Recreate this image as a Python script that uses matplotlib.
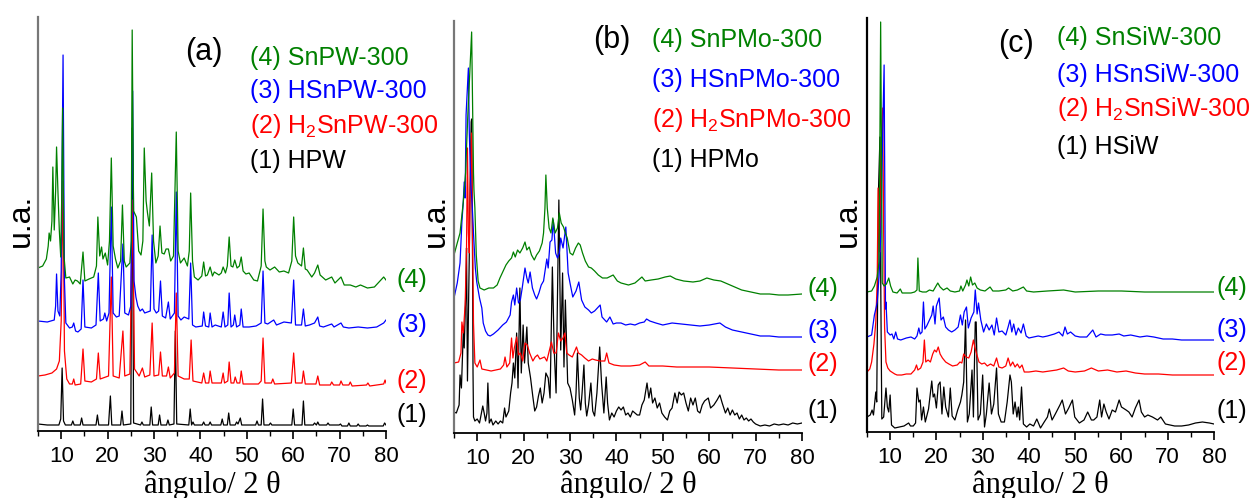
import matplotlib.pyplot as plt

plt.rcParams['font.family'] = ['Liberation Sans', 'DejaVu Sans']
plt.rcParams['mathtext.default'] = 'regular'

# --- (a) serie PW: (2θ, intensidad) ---
hpw = [(5.0, 7), (7, 6), (9.5, 6), (9.9, 12), (10.2, 63), (10.5, 10), (10.9, 6),
       (12.2, 6), (12.5, 10), (12.8, 6), (14.1, 6), (14.4, 13), (14.7, 6),
       (17.5, 6), (17.8, 16), (18.1, 6), (20.2, 6), (20.6, 35), (20.9, 6),
       (22.8, 6), (23.1, 20), (23.4, 6), (25.0, 7), (25.3, 303), (25.6, 8),
       (27.1, 6), (27.4, 9), (27.7, 6), (29.1, 6), (29.4, 24), (29.7, 6),
       (30.9, 6), (31.2, 16), (31.5, 6), (32.7, 6), (33.0, 11), (33.3, 6),
       (34.3, 7), (34.6, 100), (34.9, 7), (37.5, 6), (37.8, 22), (38.1, 6), (38.4, 9), (38.7, 6),
       (40.4, 6), (40.7, 9), (41.0, 6), (41.8, 6), (42.1, 9), (42.4, 6),
       (44.4, 6), (44.7, 12), (45.0, 6), (45.8, 6), (46.1, 18), (46.4, 6),
       (47.5, 6), (47.8, 9), (48.1, 7), (48.6, 13), (48.9, 6), (51.9, 6), (52.2, 10), (52.5, 6),
       (53.1, 6), (53.4, 32), (53.7, 6), (54.8, 6), (55.1, 8), (55.4, 6),
       (59.7, 6), (60.0, 22), (60.3, 6), (61.9, 6), (62.2, 30), (62.5, 6),
       (64.3, 6), (64.6, 8), (65.0, 6), (65.3, 9), (65.6, 6), (67.2, 6), (67.5, 8), (67.8, 6),
       (69.9, 6), (70.2, 7), (70.5, 5), (71.7, 5), (72.0, 8), (72.3, 5),
       (73.7, 5), (74.0, 7), (74.3, 5), (75.7, 5), (76.0, 6), (76.3, 5),
       (79.4, 5), (79.7, 8), (80.0, 6)]

h2snpw = [(5.0, 55), (6.5, 56), (8.0, 58), (9.0, 62), (9.6, 70), (10.0, 110), (10.4, 250), (10.7, 80),
          (11.2, 52), (11.8, 47), (12.4, 47), (12.7, 52), (13.0, 46), (14.2, 47), (14.7, 82), (15.1, 50),
          (16.5, 49), (17.6, 52), (18.0, 78), (18.4, 52), (20.2, 55), (20.8, 154), (21.2, 55),
          (22.5, 53), (23.3, 100), (23.7, 55), (24.8, 57), (25.4, 231), (25.8, 62),
          (26.8, 55), (27.5, 63), (28.0, 54), (29.1, 56), (29.6, 108), (30.0, 55), (31.0, 56),
          (31.4, 79), (31.8, 55), (32.7, 55), (33.1, 64), (33.5, 53), (34.4, 58), (34.8, 138),
          (35.2, 55), (36.5, 52), (37.6, 52), (38.0, 91), (38.4, 50),
          (40.3, 48), (40.7, 58), (41.1, 48), (41.8, 48), (42.1, 60), (42.5, 48), (44.5, 48),
          (44.9, 58), (45.2, 48), (45.9, 50), (46.2, 69), (46.6, 48), (47.2, 48), (47.5, 54),
          (47.9, 48), (48.5, 48), (48.8, 60), (49.2, 47), (52.5, 47), (53.1, 50), (53.5, 93),
          (53.9, 48), (55.3, 48), (55.6, 52), (56.0, 47), (59.6, 48), (60.1, 78), (60.5, 48),
          (61.9, 48), (62.2, 60), (62.6, 47), (64.9, 47), (65.3, 55), (65.7, 46), (68.0, 46),
          (68.3, 49), (68.7, 46), (70.0, 46), (70.3, 50), (70.7, 46), (72.0, 46), (72.3, 49),
          (72.7, 45), (75.8, 46), (76.1, 48), (76.5, 45), (79.5, 47), (79.8, 51), (80.0, 48)]

hsnpw = [(5.0, 110), (7.0, 109), (8.5, 111), (8.8, 125), (9.0, 157), (9.3, 120), (9.7, 115),
         (10.0, 160), (10.4, 376), (10.7, 150), (11.0, 108), (11.8, 103), (12.4, 104), (12.7, 108),
         (13.1, 100), (13.6, 99), (14.3, 102), (14.7, 151), (15.1, 104), (16.5, 103), (17.5, 106),
         (18.0, 158), (18.4, 110), (19.1, 112), (19.4, 118), (19.8, 110), (20.3, 118), (20.8, 224),
         (21.2, 118), (21.9, 114), (22.5, 115), (23.3, 187), (23.7, 118), (24.5, 116), (25.0, 125),
         (25.4, 340), (25.7, 150), (26.1, 134), (26.5, 125), (27.0, 120), (27.5, 122), (28.0, 118),
         (29.2, 120), (29.6, 196), (30.0, 122), (30.5, 118), (31.0, 120), (31.4, 150), (31.8, 115),
         (32.5, 113), (33.1, 129), (33.5, 112), (34.4, 118), (34.8, 239), (35.2, 115), (35.8, 111),
         (36.5, 114), (37.5, 112), (37.9, 168), (38.3, 106), (39.0, 104),
         (40.4, 105), (40.7, 119), (41.1, 105), (41.8, 104), (42.1, 118), (42.5, 104), (43.2, 106),
         (44.5, 104), (44.9, 119), (45.3, 104), (45.9, 106), (46.2, 138), (46.6, 104), (47.1, 106),
         (47.4, 116), (47.8, 104), (48.5, 106), (48.8, 122), (49.2, 104), (50.5, 104), (52.0, 105),
         (53.1, 108), (53.5, 160), (53.9, 108), (54.5, 107), (55.8, 111), (56.4, 106), (58.0, 109),
         (59.6, 108), (60.1, 151), (60.5, 106), (61.8, 106), (62.2, 122), (62.6, 105), (63.5, 106),
         (64.6, 108), (65.3, 114), (65.7, 105), (66.5, 104), (68.3, 107), (68.8, 104), (70.3, 108),
         (70.8, 104), (72.0, 103), (74.0, 104), (76.0, 103), (78.0, 104), (79.5, 108), (80.0, 111)]

snpw = [(5.0, 163), (6.0, 165), (6.8, 172), (7.2, 185), (7.4, 198), (7.7, 190), (8.0, 210), (8.2, 264),
        (8.5, 201), (8.8, 240), (9.0, 284), (9.3, 239), (9.6, 200), (9.9, 174), (10.1, 230), (10.3, 323),
        (10.6, 175), (11.0, 153), (11.8, 154), (12.5, 147), (13.0, 151), (13.5, 150), (14.1, 147),
        (14.7, 179), (15.1, 150), (16.0, 152), (17.0, 154), (17.6, 165), (17.9, 214), (18.3, 175),
        (18.7, 184), (19.0, 172), (19.5, 178), (20.0, 166), (20.4, 190), (20.8, 273), (21.2, 185),
        (21.7, 172), (22.2, 163), (22.8, 170), (23.2, 226), (23.6, 170), (24.0, 164), (24.8, 168),
        (25.1, 190), (25.3, 401), (25.6, 220), (26.2, 214), (26.7, 180), (27.2, 176), (27.6, 190),
        (27.9, 283), (28.3, 230), (28.6, 218), (29.0, 205), (29.5, 258), (29.9, 190), (30.4, 168),
        (30.9, 175), (31.3, 205), (31.7, 178), (32.2, 177), (32.6, 182), (33.1, 182), (33.6, 170),
        (34.2, 175), (34.8, 299), (35.2, 180), (35.7, 168), (36.5, 173), (37.2, 165), (37.6, 180),
        (37.9, 238), (38.3, 170), (38.7, 154), (39.5, 151), (40.3, 155), (40.7, 169), (41.1, 155),
        (41.5, 156), (42.1, 164), (42.6, 155), (43.0, 159), (44.0, 156), (44.5, 158), (44.9, 164),
        (45.4, 158), (45.8, 165), (46.2, 194), (46.6, 165), (47.0, 164), (47.4, 171), (47.9, 163),
        (48.4, 165), (48.8, 174), (49.2, 160), (49.8, 157), (50.5, 158), (51.5, 151), (52.3, 150),
        (53.1, 165), (53.5, 222), (53.9, 170), (54.2, 164), (55.0, 161), (56.0, 164), (57.0, 159),
        (58.0, 160), (59.0, 158), (59.7, 170), (60.1, 214), (60.5, 175), (61.0, 168), (61.8, 165),
        (62.2, 183), (62.6, 162), (63.0, 161), (64.0, 154), (64.6, 158), (65.3, 166), (65.8, 156),
        (67.0, 151), (68.3, 154), (69.0, 148), (70.3, 154), (71.0, 146), (72.3, 146), (73.5, 144),
        (74.5, 146), (76.0, 143), (77.5, 144), (78.5, 149), (79.5, 154), (80.0, 151)]

# --- (b) serie PMo ---
hpmo = [(5.0, 21), (5.5, 20), (6.1, 28), (6.3, 58), (6.6, 45), (7.0, 101), (7.2, 85), (7.6, 150),
        (7.7, 185), (7.9, 52), (8.3, 180), (8.4, 225), (8.7, 311), (8.8, 314), (9.0, 170), (9.1, 60),
        (9.2, 16), (9.5, 12), (10.0, 14), (10.5, 10), (11.0, 22), (11.2, 27), (11.5, 20), (11.8, 12),
        (12.1, 20), (12.3, 50), (12.6, 10), (13.0, 14), (13.4, 8), (14.0, 12), (14.5, 9), (15.0, 12),
        (15.5, 10), (15.9, 25), (16.2, 16), (16.8, 22), (17.2, 40), (17.5, 50), (17.8, 70), (18.1, 55),
        (18.5, 100), (18.8, 45), (19.2, 145), (19.5, 60), (19.9, 108), (20.2, 70), (20.7, 106),
        (21.0, 70), (21.5, 55), (22.0, 36), (22.4, 22), (22.8, 26), (23.2, 37), (23.6, 45), (24.0, 30),
        (24.4, 40), (24.8, 60), (25.3, 55), (25.7, 35), (26.2, 166), (26.6, 83), (27.0, 40),
        (27.6, 233), (28.0, 83), (28.4, 160), (28.7, 66), (29.0, 133), (29.5, 50), (30.0, 45),
        (30.5, 33), (31.0, 18), (31.3, 40), (31.6, 80), (32.0, 35), (32.3, 23), (32.6, 40), (33.0, 68),
        (33.3, 30), (33.6, 17), (34.0, 28), (34.5, 50), (34.9, 22), (35.3, 17), (35.8, 40), (36.4, 86),
        (36.8, 50), (37.3, 20), (37.8, 56), (38.1, 30), (38.5, 13), (39.0, 20), (39.5, 16), (40.0, 22),
        (40.5, 26), (41.0, 23), (41.5, 26), (42.0, 18), (42.5, 20), (43.0, 16), (43.5, 22), (44.0, 20),
        (44.5, 18), (45.0, 18), (45.5, 28), (46.0, 33), (46.6, 50), (47.0, 35), (47.4, 45), (47.8, 30),
        (48.3, 35), (48.8, 25), (49.3, 30), (49.8, 20), (50.4, 16), (51.0, 13), (51.5, 22), (52.0, 25),
        (52.6, 40), (53.1, 30), (53.5, 41), (54.0, 38), (54.5, 40), (55.0, 30), (55.5, 22), (56.0, 35),
        (56.5, 28), (57.0, 35), (57.5, 22), (58.0, 20), (58.5, 28), (59.0, 32), (59.8, 35), (60.3, 25),
        (61.0, 28), (61.7, 33), (62.3, 38), (62.8, 30), (63.5, 20), (64.0, 25), (64.5, 18), (65.0, 23),
        (65.5, 18), (66.0, 20), (66.5, 14), (67.0, 18), (67.5, 13), (68.0, 15), (68.5, 12), (69.0, 14),
        (69.5, 11), (70.0, 9), (71.0, 7), (72.0, 8), (73.0, 7), (74.0, 9), (75.0, 8), (76.0, 9),
        (77.0, 8), (78.0, 10), (79.0, 9), (80.0, 10)]

h2snpmo = [(5.0, 70), (6.0, 71), (6.5, 80), (6.7, 111), (7.0, 100), (7.4, 128), (7.7, 185), (7.9, 285),
           (8.1, 200), (8.3, 180), (8.5, 251), (8.8, 300), (9.0, 196), (9.2, 110), (9.5, 70), (10.0, 66),
           (10.6, 73), (11.0, 64), (12.0, 63), (13.0, 62), (14.0, 63), (15.0, 64), (15.7, 68), (16.0, 76),
           (16.4, 66), (17.0, 70), (17.4, 95), (17.7, 75), (18.0, 85), (18.5, 96), (18.9, 78), (19.3, 80),
           (19.8, 72), (20.3, 90), (20.8, 88), (21.3, 80), (22.0, 72), (22.5, 76), (23.0, 78), (23.5, 74),
           (24.5, 76), (25.0, 72), (26.0, 91), (26.5, 80), (27.0, 80), (27.5, 100), (28.0, 92),
           (28.5, 95), (28.9, 100), (29.3, 80), (29.8, 78), (30.5, 76), (31.4, 86), (31.8, 80),
           (32.5, 78), (33.2, 75), (34.0, 72), (34.8, 74), (35.5, 73), (36.5, 72), (37.5, 72),
           (37.9, 80), (38.4, 70), (39.5, 68), (41.0, 67), (43.0, 67), (45.0, 68), (46.2, 71),
           (47.0, 67), (50.0, 67), (53.0, 66), (56.0, 66), (60.0, 66), (65.0, 65), (70.0, 64),
           (75.0, 63), (80.0, 63)]

hsnpmo = [(5.0, 135), (5.7, 150), (6.3, 170), (6.7, 211), (7.0, 231), (7.2, 251), (7.4, 235), (7.6, 318),
          (8.1, 365), (8.3, 300), (8.6, 250), (8.9, 230), (9.2, 200), (9.6, 165), (9.9, 151), (10.5, 135),
          (11.0, 125), (11.3, 110), (11.8, 102), (12.3, 98), (12.8, 97), (13.5, 99), (14.5, 103),
          (15.5, 108), (16.3, 111), (17.1, 118), (17.4, 131), (17.8, 138), (18.1, 128), (18.5, 145),
          (18.9, 130), (19.3, 133), (19.7, 145), (20.3, 165), (20.7, 155), (21.0, 150), (21.4, 161),
          (21.9, 145), (22.4, 138), (22.8, 134), (23.3, 140), (23.8, 148), (24.3, 152), (25.0, 174),
          (25.3, 165), (25.7, 191), (26.1, 193), (26.4, 213), (26.9, 180), (27.3, 175), (27.7, 180),
          (28.0, 195), (28.5, 185), (29.1, 206), (29.6, 160), (30.0, 150), (30.6, 136), (31.3, 142),
          (31.9, 151), (32.5, 133), (33.2, 126), (34.0, 123), (34.6, 120), (35.3, 122), (36.1, 126),
          (36.5, 128), (36.9, 116), (37.5, 113), (37.9, 111), (38.6, 116), (39.3, 109), (40.0, 110),
          (41.0, 110), (42.0, 108), (43.0, 109), (44.0, 108), (45.0, 110), (46.0, 111), (46.5, 114),
          (47.2, 112), (48.5, 110), (50.0, 108), (52.0, 110), (54.0, 109), (56.0, 108), (58.0, 107),
          (60.0, 108), (62.3, 110), (63.5, 106), (65.0, 103), (67.0, 101), (69.0, 99), (71.0, 97),
          (73.0, 97), (75.0, 96), (77.0, 96), (80.0, 96)]

snpmo = [(5.0, 178), (5.7, 190), (6.3, 200), (7.0, 231), (7.5, 260), (7.7, 285), (8.0, 320), (8.4, 360),
         (8.8, 401), (9.0, 330), (9.2, 260), (9.3, 243), (9.5, 225), (9.8, 178), (10.2, 152),
         (10.6, 145), (11.5, 143), (12.5, 145), (13.5, 145), (14.3, 148), (14.9, 155), (15.6, 162),
         (16.2, 168), (16.8, 172), (17.4, 175), (17.8, 181), (18.2, 176), (18.7, 183), (19.2, 180),
         (19.8, 185), (20.3, 191), (20.7, 183), (21.2, 186), (21.7, 178), (22.3, 173), (22.8, 178),
         (23.4, 182), (24.0, 190), (24.3, 200), (24.6, 225), (24.8, 258), (25.1, 225), (25.5, 205),
         (25.9, 200), (26.3, 215), (26.8, 200), (27.3, 205), (27.7, 220), (28.1, 210), (28.6, 206),
         (29.0, 200), (29.4, 195), (30.0, 180), (30.6, 178), (31.2, 185), (31.8, 190), (32.2, 188),
         (32.7, 180), (33.3, 172), (34.0, 166), (34.6, 165), (35.3, 162), (36.1, 158), (37.0, 155),
         (38.0, 155), (39.3, 158), (40.2, 152), (41.0, 150), (42.6, 148), (44.0, 150), (45.5, 156),
         (46.2, 152), (47.5, 153), (49.0, 154), (50.5, 156), (51.6, 157), (52.8, 154), (54.5, 152),
         (56.5, 151), (58.0, 152), (59.5, 155), (61.0, 153), (62.5, 152), (64.0, 149), (65.5, 146),
         (67.0, 143), (69.0, 141), (71.0, 139), (73.0, 139), (75.0, 138), (77.0, 138), (80.0, 139)]

# --- (c) serie SiW ---
hsiw = [(5.0, 15), (5.7, 17), (6.1, 22), (6.4, 17), (6.9, 40), (7.1, 30), (7.5, 244), (7.8, 295),
        (8.0, 130), (8.2, 13), (8.6, 15), (9.1, 44), (9.4, 25), (9.7, 20), (10.0, 37), (10.3, 7),
        (11.0, 4), (12.0, 5), (13.0, 6), (14.0, 9), (14.4, 6), (15.0, 6), (15.5, 9), (15.8, 44),
        (16.2, 30), (16.5, 32), (16.8, 12), (17.2, 25), (17.6, 10), (18.3, 23), (19.0, 51), (19.3, 35),
        (19.6, 38), (20.0, 24), (20.4, 47), (20.8, 50), (21.2, 18), (21.6, 45), (22.0, 25), (22.6, 15),
        (23.0, 44), (23.4, 16), (24.0, 12), (24.6, 22), (25.2, 30), (25.5, 37), (25.9, 50), (26.3, 112),
        (26.7, 10), (27.1, 18), (27.7, 62), (28.0, 15), (28.4, 110), (28.6, 110), (29.0, 12), (29.5, 18),
        (30.0, 57), (30.4, 5), (30.8, 18), (31.4, 49), (31.9, 18), (32.4, 28), (33.0, 64), (33.4, 18),
        (34.0, 10), (34.7, 10), (35.3, 30), (35.9, 57), (36.2, 50), (36.6, 18), (37.0, 30), (37.4, 15),
        (37.7, 25), (38.0, 12), (38.4, 45), (38.8, 8), (39.5, 5), (40.2, 8), (41.0, 6), (41.7, 13),
        (42.5, 4), (43.3, 10), (44.0, 15), (44.4, 23), (45.0, 12), (45.7, 18), (46.7, 27), (47.2, 32),
        (47.9, 18), (48.6, 24), (49.4, 32), (49.9, 15), (50.9, 9), (51.9, 12), (52.7, 20), (53.5, 12),
        (54.0, 12), (54.7, 15), (55.3, 32), (55.7, 15), (56.2, 28), (56.7, 20), (57.3, 13), (58.0, 22),
        (58.7, 20), (59.5, 32), (60.0, 25), (61.0, 22), (61.6, 20), (62.3, 15), (63.0, 24), (63.8, 32),
        (64.3, 20), (65.0, 15), (65.7, 17), (66.7, 15), (67.8, 12), (68.5, 15), (69.5, 8), (70.5, 7),
        (71.5, 6), (73.0, 6), (74.5, 7), (76.0, 9), (77.5, 10), (79.0, 9), (80.0, 8)]

h2snsiw = [(5.0, 60), (5.6, 63), (6.0, 70), (6.5, 88), (6.9, 110), (7.2, 150), (7.4, 244), (7.6, 200),
           (7.8, 180), (8.1, 280), (8.4, 324), (8.6, 200), (8.8, 105), (9.1, 70), (9.5, 64), (10.0, 61),
           (11.0, 58), (11.5, 57), (12.5, 57), (13.5, 58), (14.5, 58), (15.3, 62), (15.7, 67), (16.0, 62),
           (16.6, 64), (17.1, 70), (17.4, 92), (17.7, 70), (18.2, 72), (18.7, 70), (19.2, 78), (19.6, 82),
           (20.0, 80), (20.4, 85), (20.8, 78), (21.3, 74), (22.0, 70), (22.7, 68), (23.5, 66), (24.5, 67),
           (25.1, 70), (25.5, 69), (25.9, 78), (26.4, 75), (27.0, 74), (27.5, 80), (28.0, 92), (28.3, 85),
           (28.7, 78), (29.2, 70), (29.8, 68), (30.4, 69), (31.0, 66), (31.7, 68), (32.4, 66), (33.0, 74),
           (33.5, 65), (34.2, 64), (35.0, 66), (35.5, 74), (36.0, 66), (36.5, 70), (37.0, 65), (37.5, 68),
           (38.0, 64), (38.5, 67), (39.0, 60), (40.0, 60), (41.5, 61), (43.0, 60), (44.5, 61), (46.0, 62),
           (47.5, 64), (48.5, 61), (50.0, 60), (52.0, 61), (53.5, 64), (55.0, 61), (57.0, 62), (59.0, 60),
           (61.0, 61), (63.0, 59), (65.0, 58), (68.0, 58), (71.0, 57), (75.0, 57), (80.0, 57)]

hsnsiw = [(5.0, 95), (6.0, 97), (6.6, 117), (7.0, 125), (7.2, 130), (7.6, 155), (8.0, 200), (8.4, 300),
          (8.7, 367), (8.9, 200), (9.0, 123), (9.1, 130), (9.4, 100), (10.0, 97), (10.4, 98), (10.8, 93),
          (11.2, 100), (11.6, 93), (12.3, 92), (13.5, 94), (14.5, 95), (15.3, 93), (15.8, 96), (16.2, 104),
          (16.5, 98), (16.9, 100), (17.2, 130), (17.5, 103), (17.9, 106), (18.5, 112), (19.0, 117),
          (19.3, 126), (19.7, 108), (20.0, 126), (20.6, 134), (21.0, 112), (21.5, 115), (22.0, 105),
          (22.6, 102), (23.3, 100), (24.0, 102), (24.7, 105), (25.2, 117), (25.6, 107), (26.0, 120),
          (26.5, 125), (26.9, 104), (27.5, 114), (28.1, 120), (28.4, 142), (28.8, 118), (29.1, 129),
          (29.6, 112), (30.2, 100), (30.8, 108), (31.4, 102), (32.0, 107), (32.5, 97), (33.0, 114),
          (33.5, 100), (34.2, 101), (35.0, 97), (35.5, 105), (35.9, 112), (36.3, 100), (36.7, 108),
          (37.2, 97), (37.7, 104), (38.3, 99), (38.8, 108), (39.4, 96), (40.0, 94), (41.0, 95), (42.0, 96),
          (43.0, 95), (44.0, 96), (45.5, 98), (46.5, 100), (47.3, 96), (47.8, 105), (48.3, 98), (49.0, 100),
          (50.0, 96), (51.0, 95), (52.5, 95), (53.8, 102), (54.5, 95), (55.5, 98), (56.5, 97), (58.0, 97),
          (59.5, 98), (60.5, 96), (62.0, 97), (64.0, 95), (65.5, 96), (67.0, 95), (69.0, 93), (71.0, 93),
          (73.0, 92), (75.0, 92), (77.5, 92), (80.0, 92)]

snsiw = [(5.0, 140), (6.0, 141), (6.6, 146), (7.2, 155), (7.6, 170), (7.8, 300), (7.95, 410), (8.1, 300),
         (8.3, 149), (8.7, 146), (9.2, 148), (9.7, 154), (10.1, 146), (10.6, 140), (11.5, 139),
         (12.2, 143), (12.6, 139), (13.5, 139), (14.5, 139), (15.3, 140), (15.8, 142), (16.0, 174),
         (16.3, 141), (17.0, 140), (17.8, 140), (18.5, 142), (19.3, 141), (20.3, 149), (20.8, 145),
         (21.5, 142), (22.3, 144), (23.0, 141), (24.0, 140), (25.0, 141), (25.3, 146), (25.7, 141),
         (26.3, 147), (26.6, 152), (27.0, 146), (27.4, 155), (27.8, 147), (28.3, 149), (28.8, 144),
         (29.5, 142), (30.5, 141), (31.6, 145), (32.2, 141), (33.5, 141), (35.0, 142), (35.6, 144),
         (36.5, 141), (37.5, 142), (38.8, 145), (39.5, 141), (41.0, 140), (44.0, 141), (47.5, 142),
         (50.0, 140), (55.0, 141), (60.0, 141), (65.0, 140), (70.0, 140), (75.0, 140), (80.0, 140)]

names_a = ['(4) SnPW-300', '(3) HSnPW-300', '(2) H$_2$SnPW-300', '(1) HPW']
names_b = ['(4) SnPMo-300', '(3) HSnPMo-300', '(2) H$_2$SnPMo-300', '(1) HPMo']
names_c = ['(4) SnSiW-300', '(3) HSnSiW-300', '(2) H$_2$SnSiW-300', '(1) HSiW']
tags = ['(4)', '(3)', '(2)', '(1)']
colors = ['green', '#0000ff', '#ff0000', 'black']

W, H = 1253, 498
fig = plt.figure(figsize=(W / 100, H / 100), dpi=100)


def px_text(x, y, s, **kw):
    fig.text(x / W, 1 - y / H, s, **kw)


def panel(left, right, top, bottom, traces, spine_color, letter, letter_xy,
          names, name_x, name_y, tag_x, tag_y, ylab_x):
    ax = fig.add_axes([left / W, 1 - bottom / H, (right - left) / W, (bottom - top) / H])
    ax.set_xlim(5, 80)
    ax.set_ylim(0, bottom - top)
    # de abajo hacia arriba: (1) negro ... (4) verde
    for data, c in zip(traces[::-1], colors[::-1]):
        ax.plot([p[0] for p in data], [p[1] for p in data], color=c, lw=0.9)
    ax.spines['top'].set_visible(False)
    ax.spines['right'].set_visible(False)
    ax.spines['left'].set_color(spine_color)
    ax.spines['left'].set_linewidth(1.6)
    ax.spines['bottom'].set_linewidth(1.3)
    ax.set_yticks([])
    ax.set_xticks(range(10, 81, 10))
    ax.set_xticks(range(5, 80, 10), minor=True)
    ax.tick_params(axis='x', which='major', direction='out', length=6, width=1.2,
                   labelsize=16, pad=5)
    ax.tick_params(axis='x', which='minor', direction='out', length=3.5, width=1.0)

    px_text((left + right) / 2, 493, 'ângulo/ 2 θ', family='Liberation Serif',
            fontsize=22, ha='center', va='baseline')
    px_text(ylab_x, 220, 'u.a.', fontsize=23, rotation=90, ha='center', va='center')
    px_text(letter_xy[0], letter_xy[1], letter, fontsize=22, ha='left', va='baseline')
    for name, c, y in zip(names, colors, name_y):
        px_text(name_x, y, name, color=c, fontsize=18, ha='left', va='baseline')
    for tag, c, y in zip(tags, colors, tag_y):
        px_text(tag_x, y, tag, color=c, fontsize=18, ha='left', va='baseline')
    return ax


panel(38, 386, 17, 431, [snpw, hsnpw, h2snpw, hpw], '#777777', '(a)', (185, 60),
      names_a, 250, [65, 98, 133, 168], 397, [287, 332, 388, 422], 21)
panel(454, 802, 21, 433, [snpmo, hsnpmo, h2snpmo, hpmo], '#777777', '(b)', (593, 48),
      names_b, 652, [47, 87, 127, 167], 808, [296, 338, 371, 418], 436)
panel(867, 1214, 18, 432, [snsiw, hsnsiw, h2snsiw, hsiw], 'black', '(c)', (998, 52),
      names_c, 1057, [45, 82, 116, 154], 1217, [295, 337, 370, 418], 848)

fig.savefig('out.png', dpi=100)
